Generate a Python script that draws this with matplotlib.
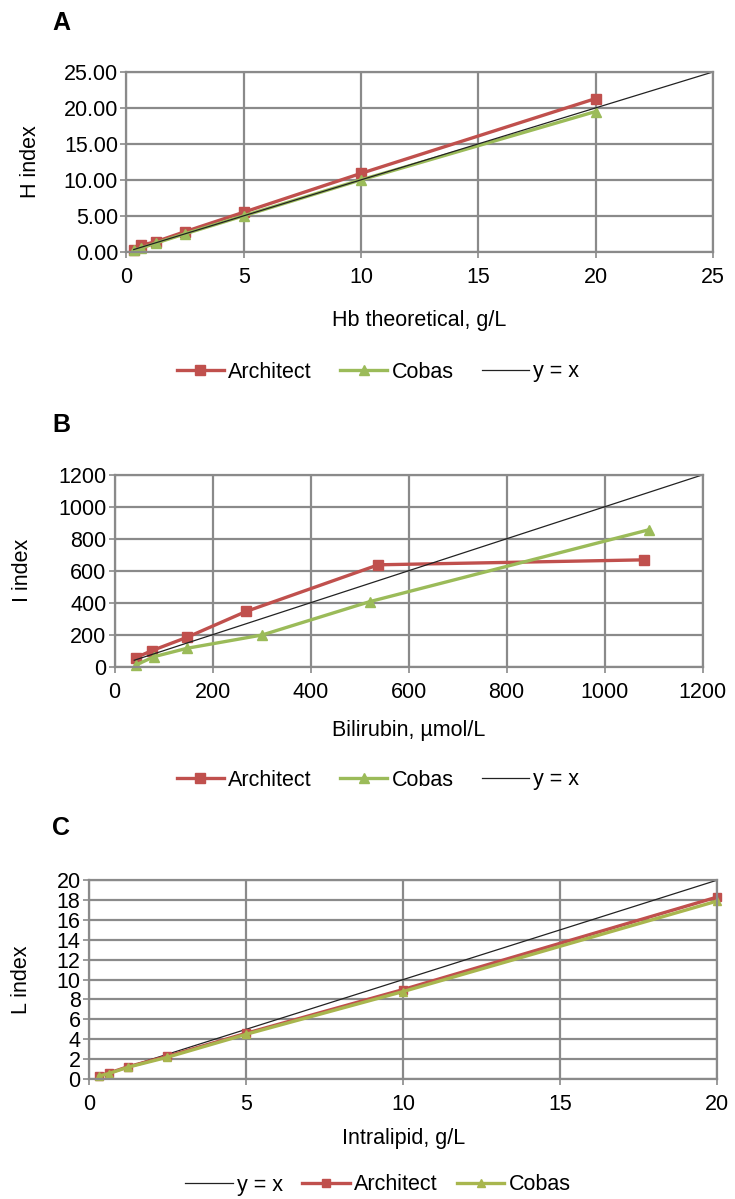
import matplotlib
matplotlib.use('Agg')
import matplotlib.pyplot as plt

plt.rcParams['font.family'] = ['Liberation Sans', 'DejaVu Sans']

# Panel A - haemolysis
hb_x = [0.3125, 0.625, 1.25, 2.5, 5, 10, 20]
hb_architect = [0.3, 0.9, 1.4, 2.8, 5.5, 10.9, 21.3]
hb_cobas = [0.2, 0.5, 1.2, 2.5, 5.0, 10.0, 19.5]
hb_identity_x = [0.3125, 25]

# Panel B - icterus
bili_architect_x = [43, 76, 148, 268, 538, 1080]
bili_architect = [56, 100, 184, 345, 637, 668]
bili_cobas_x = [43, 81, 148, 301, 521, 1090]
bili_cobas = [10, 63, 115, 198, 407, 856]
bili_identity_x = [40, 1200]

# Panel C - lipaemia
lip_x = [0.3125, 0.625, 1.25, 2.5, 5, 10, 20]
lip_architect = [0.35, 0.6, 1.25, 2.3, 4.6, 9.0, 18.3]
lip_cobas = [0.3, 0.55, 1.2, 2.2, 4.5, 8.8, 17.9]
lip_identity_x = [0.3125, 20]

RED = '#c0504d'
GREEN = '#9bbb59'
GRID = '#8a8a8a'
FS = 15.5


def style_axes(ax, xlim, ylim, xticks, yticks, xlabel, ylabel, xpad, ylab_x, yfmt=None):
    ax.set_xlim(*xlim)
    ax.set_ylim(*ylim)
    ax.set_xticks(xticks)
    ax.set_yticks(yticks)
    if yfmt:
        ax.set_yticklabels([yfmt.format(v) for v in yticks])
    ax.grid(True, color=GRID, linewidth=1.6)
    ax.set_axisbelow(True)
    for s in ax.spines.values():
        s.set_color(GRID)
        s.set_linewidth(1.6)
    ax.tick_params(colors=GRID, labelcolor='black', labelsize=FS, length=4, width=1.2)
    ax.tick_params(axis='y', pad=2)
    ax.tick_params(axis='x', pad=7)
    ax.set_xlabel(xlabel, fontsize=FS, labelpad=xpad)
    ax.set_ylabel(ylabel, fontsize=FS)
    ax.yaxis.set_label_coords(ylab_x, 0.5)


def plot_series(ax, x, y, color, marker, label, ms):
    ax.plot(x, y, color=color, marker=marker, markersize=ms, linewidth=2.4,
            markeredgecolor=color, label=label, clip_on=False)


def plot_identity(ax, x):
    ax.plot(x, x, color='#222222', linewidth=0.9, label='y = x')


def add_legend(ax, ypix, colsp=1.3):
    ax.legend(loc='center', bbox_to_anchor=(378 / 735, 1 - ypix / 1199),
              bbox_transform=fig.transFigure, ncol=3, frameon=False, fontsize=FS,
              handlelength=2.2, handletextpad=0.2, columnspacing=colsp)


fig = plt.figure(figsize=(7.35, 11.99), dpi=100)

# A
axA = fig.add_axes([0.172, 0.790, 0.798, 0.150])
plot_series(axA, hb_x, hb_architect, RED, 's', 'Architect', 7)
plot_series(axA, hb_x, hb_cobas, GREEN, '^', 'Cobas', 7)
plot_identity(axA, hb_identity_x)
style_axes(axA, (0, 25), (0, 25), range(0, 26, 5), [0, 5, 10, 15, 20, 25],
           'Hb theoretical, g/L', 'H index', 16, -0.145, '{:.2f}')
add_legend(axA, 372)
fig.text(0.083, 0.981, 'A', fontsize=18, fontweight='bold', va='center', ha='center')

# B
axB = fig.add_axes([0.156, 0.444, 0.800, 0.160])
plot_series(axB, bili_architect_x, bili_architect, RED, 's', 'Architect', 7)
plot_series(axB, bili_cobas_x, bili_cobas, GREEN, '^', 'Cobas', 7)
plot_identity(axB, bili_identity_x)
style_axes(axB, (0, 1200), (0, 1200), range(0, 1201, 200), range(0, 1201, 200),
           'Bilirubin, µmol/L', 'I index', 12, -0.139)
add_legend(axB, 780)
fig.text(0.083, 1 - 425 / 1199, 'B', fontsize=18, fontweight='bold', va='center', ha='center')

# C
axC = fig.add_axes([0.121, 0.100, 0.855, 0.166])
plot_identity(axC, lip_identity_x)
plot_series(axC, lip_x, lip_architect, RED, 's', 'Architect', 6)
plot_series(axC, lip_x, lip_cobas, '#a8b64e', '^', 'Cobas', 6)
style_axes(axC, (0, 20), (0, 20), range(0, 21, 5), range(0, 21, 2),
           'Intralipid, g/L', 'L index', 9, -0.090)
add_legend(axC, 1185, colsp=0.9)
fig.text(0.083, 1 - 828 / 1199, 'C', fontsize=18, fontweight='bold', va='center', ha='center')

fig.savefig('out.png', dpi=100)
